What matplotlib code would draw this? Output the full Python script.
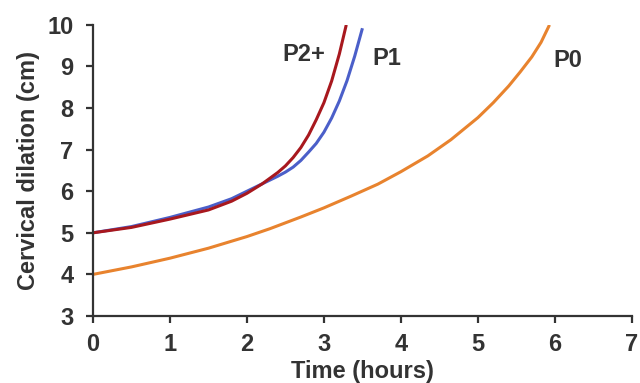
import matplotlib.pyplot as plt

# values (time in hours, dilation in cm)
p0_time = [0, 0.5, 1, 1.5, 2, 2.3, 2.7, 3, 3.35, 3.7, 4, 4.35, 4.65, 5.0, 5.2, 5.4, 5.55, 5.7, 5.82, 5.93]
p0_dil = [4.0, 4.18, 4.39, 4.63, 4.91, 5.1, 5.38, 5.6, 5.88, 6.17, 6.47, 6.85, 7.24, 7.77, 8.13, 8.53, 8.87, 9.23, 9.58, 10.0]

p1_time = [0, 0.5, 1, 1.5, 1.8, 2.0, 2.2, 2.4, 2.5, 2.6, 2.7, 2.8, 2.9, 3.0, 3.1, 3.2, 3.3, 3.4, 3.5]
p1_dil = [5.0, 5.15, 5.37, 5.62, 5.82, 6.0, 6.18, 6.36, 6.46, 6.58, 6.74, 6.94, 7.15, 7.42, 7.76, 8.17, 8.66, 9.25, 9.92]

p2_time = [0, 0.5, 1, 1.5, 1.8, 2.0, 2.2, 2.4, 2.5, 2.6, 2.7, 2.8, 2.9, 3.0, 3.1, 3.2, 3.29]
p2_dil = [5.0, 5.13, 5.33, 5.55, 5.76, 5.95, 6.18, 6.45, 6.61, 6.81, 7.05, 7.35, 7.72, 8.13, 8.65, 9.3, 10.0]

x_ticks = [0, 1, 2, 3, 4, 5, 6, 7]
y_ticks = [3, 4, 5, 6, 7, 8, 9, 10]

txt = '#333333'
plt.rcParams['font.family'] = ['Liberation Sans', 'DejaVu Sans']
plt.rcParams['font.weight'] = 'bold'

fig = plt.figure(figsize=(6.4, 3.83), dpi=100)
ax = fig.add_axes([0.1453, 0.175, 0.842, 0.76])

ax.plot(p0_time, p0_dil, color='#e8832e', lw=2.2, solid_capstyle='butt')
ax.plot(p1_time, p1_dil, color='#4b5fc9', lw=2.2, solid_capstyle='butt')
ax.plot(p2_time, p2_dil, color='#a8181e', lw=2.2, solid_capstyle='butt')

# curve labels
ax.text(2.74, 9.3, 'P2+', ha='center', va='center', fontsize=17, color=txt)
ax.text(3.82, 9.18, 'P1', ha='center', va='center', fontsize=17, color=txt)
ax.text(6.17, 9.15, 'P0', ha='center', va='center', fontsize=17, color=txt)

ax.set_xlim(0, 7)
ax.set_ylim(3, 10)
ax.set_xticks(x_ticks)
ax.set_yticks(y_ticks)
ax.spines['top'].set_visible(False)
ax.spines['right'].set_visible(False)
for s in ['left', 'bottom']:
    ax.spines[s].set_linewidth(1.6)
    ax.spines[s].set_color('#333333')
ax.tick_params(length=5, width=1.6, color='#333333', labelsize=17, labelcolor=txt)
ax.tick_params(axis='x', pad=7)
ax.tick_params(axis='y', pad=9)

ax.set_xlabel('Time (hours)', fontsize=17, fontweight='bold', color=txt, labelpad=3)
ax.set_ylabel('Cervical dilation (cm)', fontsize=17, fontweight='bold', color=txt, labelpad=5)

fig.savefig('out.png', dpi=100)
